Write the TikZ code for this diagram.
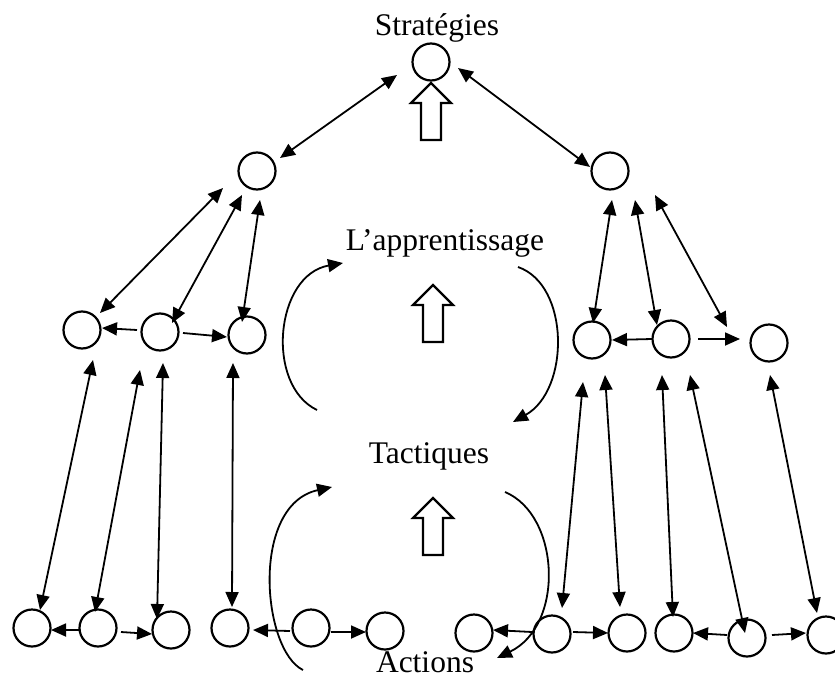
\documentclass[tikz,border=0pt]{standalone}
\usepackage{fontspec}
\setmainfont{Liberation Serif}
\usetikzlibrary{arrows.meta}

\begin{document}
\begin{tikzpicture}[x=1pt, y=-1pt, >={Triangle[length=15pt,width=13pt]},
agent/.style={circle, draw, line width=2.2pt, minimum size=37pt, inner sep=0pt},
link/.style={line width=1.8pt},
cycleArrow/.style={line width=1.8pt, ->},
heading/.style={font=\fontsize{31.5}{36}\selectfont, inner sep=0pt, anchor=base},
uparrow/.pic={\draw[line width=2.2pt, fill=white] (0,0) -- (20,20) -- (10,20) -- (10,57) -- (-10,57) -- (-10,20) -- (-20,20) -- cycle;}]

\useasboundingbox (0,0) rectangle (835,680);

%%%%%% NODES %%%%%%%%%%

\node [agent] (s) at (431,62) {};
\node [agent] (l) at (257,171) {};
\node [agent] (r) at (610,171) {};

\foreach \n/\x/\y in {l1/82/330, l2/160/332, l3/247/335, r1/592/340, r2/671/339, r3/769/343}{\node [agent] (\n) at (\x,\y) {};}

\foreach \n/\x/\y in {b1/32/628, b2/98/628, b3/171/630, b4/230/628, b5/311/628, b6/385/631,
  c1/474/633, c2/552/634, c3/627/633, c4/674/633, c5/747/638, c6/826/635}{\node [agent] (\n) at (\x,\y) {};}

%%%%%% TEXT %%%%%%%%%%

\node [heading] (strat) at (437,35) {Stratégies};
\node [heading] (appr) at (445,250) {L’apprentissage};
\node [heading] (tact) at (429,463) {Tactiques};
\node [heading] (act) at (425,672) {Actions};

%%%%%% LINKS %%%%%%%%%%

\foreach \a/\ax/\ay/\b/\bx/\by in {s/-34/13/l/23/-13, s/27/6/r/-20/-4,
  l/-34/17/l1/18/-17, l/-15/24/l2/12/-9, l/3/29/l3/-5/-13,
  r/2/29/r1/1/-17, r/25/29/r2/-14/-14, r/45/24/r3/-42/-16,
  l1/11/30/b1/8/-18, l2/-20/38/b2/-3/-16, l2/3/31/b3/-14/-11, l3/-14/28/b4/2/-21,
  r1/-9/42/c2/10/-26, r1/13/35/c3/-7/-26, r2/-9/36/c4/-1/-16, r2/19/36/c5/-2/-5, r3/1/32/c6/-9/-22}
  {\draw [link, <->] ([shift={(\ax,\ay)}]\a.center) -- ([shift={(\bx,\by)}]\b.center);}

\foreach \a/\ax/\ay/\b/\bx/\by in {l2/-23/-2/l1/20/-2, l2/23/1/l3/-20/2, r2/-19/0/r1/20/0, r2/27/0/r3/-29/-4,
  b2/-19/2/b1/19/2, b2/23/4/b3/-19/4, b5/-21/3/b4/23/2, b5/20/4/b6/-19/1,
  c2/-20/-2/c1/19/-3, c2/21/-2/c3/-19/0, c5/-20/-3/c4/19/0, c5/25/-3/c6/-20/-2}
  {\draw [link, ->] ([shift={(\ax,\ay)}]\a.center) -- ([shift={(\bx,\by)}]\b.center);}

%%%%%% CYCLES %%%%%%%%%%

\draw [cycleArrow] (317,410) .. controls (265,385) and (275,275) .. (343,263);
\draw [cycleArrow] (518,267) .. controls (570,285) and (570,390) .. (513,422);
\draw [cycleArrow] (303,670) .. controls (262,650) and (250,505) .. (332,487);
\draw [cycleArrow] (505,492) .. controls (560,515) and (565,625) .. (497,658);

\pic at (431,83) {uparrow};
\pic at (433,285) {uparrow};
\pic at (433,498) {uparrow};

\end{tikzpicture}
\end{document}
